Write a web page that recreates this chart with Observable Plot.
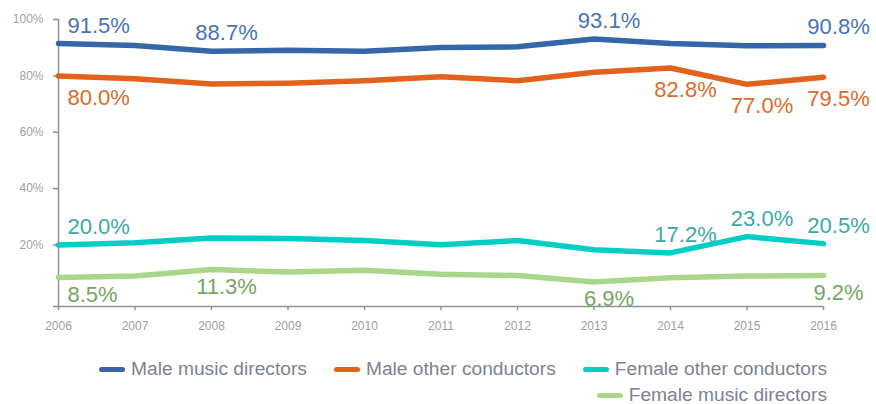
<!DOCTYPE html>
<html>
<head>
<meta charset="utf-8">
<script src="https://cdn.jsdelivr.net/npm/d3@7"></script>
<script src="https://cdn.jsdelivr.net/npm/@observablehq/plot@0.6"></script>
<style>
  body { margin: 0; background: #fff; font-family: "Liberation Sans", Arial, sans-serif; overflow: hidden; }
  #wrap { width: 876px; }
  .legend { display: flex; flex-wrap: wrap; justify-content: flex-end; column-gap: 27px; row-gap: 10px;
            width: 740px; margin-left: 87px; margin-top: 21px; }
  .item { display: flex; align-items: center; font-size: 19.2px; color: #7b8390; line-height: 16px; height: 16px; }
  .sw { width: 26px; height: 5px; border-radius: 3px; margin-right: 6px; }
</style>
</head>
<body>
<div id="wrap"></div>
<script>
// ---- data ----
const years = [2006, 2007, 2008, 2009, 2010, 2011, 2012, 2013, 2014, 2015, 2016];
const seriesNames = ["Male music directors", "Male other conductors", "Female other conductors", "Female music directors"];
const maleMusic   = [91.5, 90.8, 88.7, 89.1, 88.7, 90.1, 90.3, 93.1, 91.5, 90.7, 90.8];
const maleOther   = [80.0, 79.0, 77.1, 77.4, 78.3, 79.7, 78.3, 81.3, 82.8, 77.0, 79.5];
const femaleOther = [20.0, 20.8, 22.5, 22.3, 21.6, 20.1, 21.6, 18.3, 17.2, 23.0, 20.5];
const femaleMusic = [8.5, 9.0, 11.3, 10.4, 11.1, 9.6, 9.2, 6.9, 8.4, 9.0, 9.2];
const labelYearsMaleMusic   = [2006, 2008, 2013, 2016];
const labelYearsMaleOther   = [2006, 2014, 2015, 2016];
const labelYearsFemaleOther = [2006, 2014, 2015, 2016];
const labelYearsFemaleMusic = [2006, 2008, 2013, 2016];
const yTicks = [20, 40, 60, 80, 100];

// ---- styles ----
const lineColors  = ["#3566aa", "#e2621b", "#00cec6", "#a9d78a"];
const labelColors = ["#4673b5", "#d86c2c", "#3aa9a6", "#76a661"];
const axisColor = "#8c939c";
const tickTextColor = "#9a9fa6";

const valuesList = [maleMusic, maleOther, femaleOther, femaleMusic];
const labelYearsList = [labelYearsMaleMusic, labelYearsMaleOther, labelYearsFemaleOther, labelYearsFemaleMusic];
const labelDy = [-18, 22, -18, 17];

const rows = valuesList.map((vals, i) => years.map((year, j) => ({series: seriesNames[i], year, value: vals[j], idx: i})));
const yMin = -1.8;

const marks = [
  Plot.axisY({ticks: yTicks, tickFormat: d => d + "%", tickSize: 5, tickPadding: 10, label: null,
    stroke: axisColor, fill: tickTextColor, fontSize: 12, strokeWidth: 1.5}),
  Plot.axisX({ticks: years, tickFormat: d => String(d), tickSize: 4, tickPadding: 11, label: null,
    stroke: axisColor, fill: tickTextColor, fontSize: 12, strokeWidth: 1.5}),
  Plot.ruleX([years[0]], {y1: yMin, y2: 100, stroke: axisColor, strokeWidth: 1.5}),
  Plot.ruleY([yMin], {stroke: axisColor, strokeWidth: 1.5, insetLeft: -5})
];

rows.forEach((data, i) => {
  marks.push(Plot.line(data, {x: "year", y: "value", stroke: lineColors[i], strokeWidth: 5.5,
    strokeLinecap: "round", strokeLinejoin: "round"}));
});

rows.forEach((data, i) => {
  const lab = data.filter(d => labelYearsList[i].includes(d.year));
  const first = lab.filter(d => d.year === years[0]);
  const rest = lab.filter(d => d.year !== years[0]);
  const common = {x: "year", y: "value", text: d => d.value.toFixed(1) + "%", fill: labelColors[i],
    fontSize: 22, fontFamily: "Liberation Sans, Arial, sans-serif", dy: labelDy[i]};
  marks.push(Plot.text(first, {...common, textAnchor: "start", dx: 9}));
  marks.push(Plot.text(rest, {...common, textAnchor: "middle", dx: 15}));
});

const chart = Plot.plot({
  width: 876, height: 340,
  marginTop: 19, marginLeft: 58, marginRight: 53, marginBottom: 34,
  style: {fontFamily: "Liberation Sans, Arial, sans-serif", background: "white", overflow: "visible"},
  x: {domain: [years[0], years[years.length - 1]], label: null},
  y: {domain: [yMin, 100], label: null},
  marks
});

const wrap = document.getElementById("wrap");
wrap.appendChild(chart);

const legend = document.createElement("div");
legend.className = "legend";
seriesNames.forEach((name, i) => {
  const item = document.createElement("div");
  item.className = "item";
  const sw = document.createElement("span");
  sw.className = "sw";
  sw.style.background = lineColors[i];
  item.appendChild(sw);
  item.appendChild(document.createTextNode(name));
  legend.appendChild(item);
});
wrap.appendChild(legend);
</script>
</body>
</html>
